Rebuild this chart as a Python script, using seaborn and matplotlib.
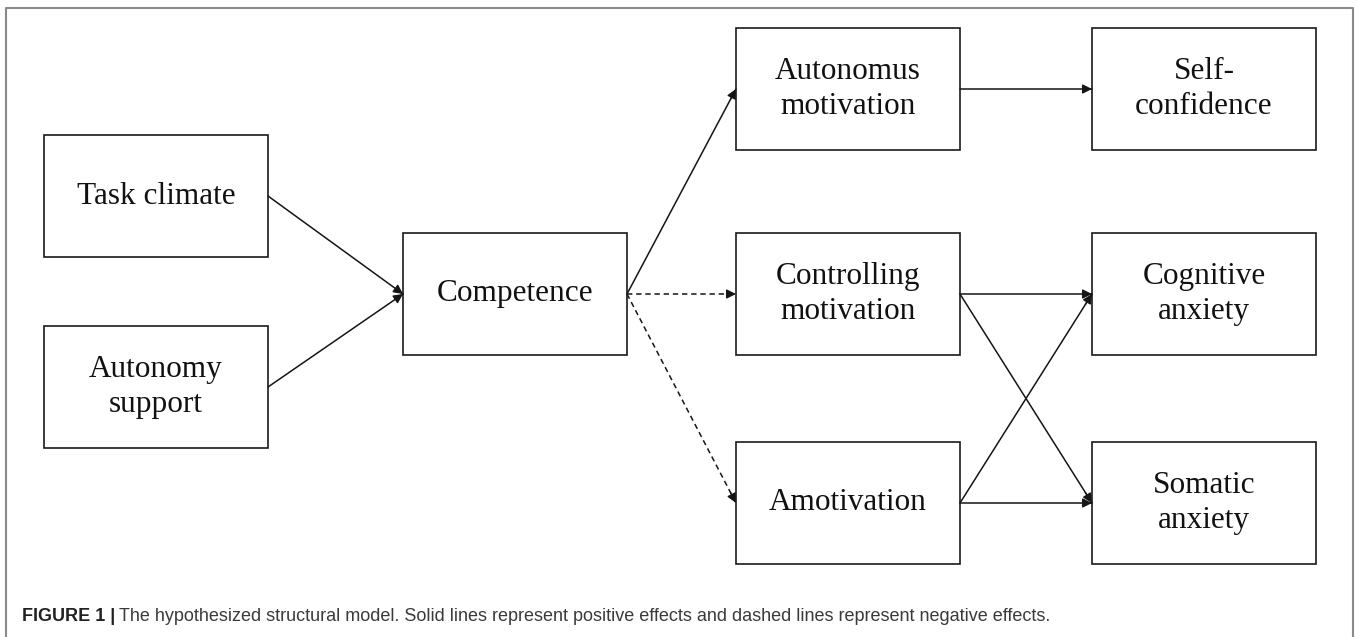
import matplotlib
matplotlib.use("Agg")
import matplotlib.pyplot as plt
from matplotlib.patches import Rectangle
import pandas as pd
import seaborn as sns

# nodes of the structural model
node_ids = ['task', 'autsup', 'comp', 'autmot', 'ctrl', 'amot', 'selfc', 'cog', 'som']
node_labels = ['Task climate', 'Autonomy\nsupport', 'Competence',
               'Autonomus\nmotivation', 'Controlling\nmotivation', 'Amotivation',
               'Self-\nconfidence', 'Cognitive\nanxiety', 'Somatic\nanxiety']
node_left = [44, 44, 403, 736, 736, 736, 1092, 1092, 1092]
node_top = [135, 326, 233, 28, 233, 442, 28, 233, 442]

# hypothesized paths
edge_src = ['task', 'autsup', 'comp', 'comp', 'comp', 'autmot', 'ctrl', 'ctrl', 'amot', 'amot']
edge_dst = ['comp', 'comp', 'autmot', 'ctrl', 'amot', 'selfc', 'cog', 'som', 'cog', 'som']
edge_effect = ['positive', 'positive', 'positive', 'negative', 'negative',
               'positive', 'positive', 'positive', 'positive', 'positive']

caption_bold = 'FIGURE 1 |'
caption_text = ('The hypothesized structural model. Solid lines represent positive effects '
                'and dashed lines represent negative effects.')

box_w, box_h = 224, 122
W, H = 1358, 637

sns.set_theme(style='white')
plt.rcParams['font.family'] = ['Liberation Serif', 'DejaVu Serif']

fig = plt.figure(figsize=(W / 100, H / 100), dpi=100)
ax = fig.add_axes([0, 0, 1, 1])

pos = {n: (x, y) for n, x, y in zip(node_ids, node_left, node_top)}

# edges as long table -> seaborn lineplot (dashes per effect)
rows = []
for i, (s, d, e) in enumerate(zip(edge_src, edge_dst, edge_effect)):
    sx, sy = pos[s]
    dx, dy = pos[d]
    rows.append({'edge': i, 'x': sx + box_w, 'y': sy + box_h / 2, 'effect': e})
    rows.append({'edge': i, 'x': dx, 'y': dy + box_h / 2, 'effect': e})
edges = pd.DataFrame(rows)

sns.lineplot(data=edges, x='x', y='y', units='edge', estimator=None, sort=False,
             style='effect', dashes={'positive': '', 'negative': (3.5, 2.5)},
             color='#151515', lw=1.1, legend=False, ax=ax)

# arrow heads
for _, g in edges.groupby('edge'):
    x0, y0 = g['x'].iloc[0], g['y'].iloc[0]
    x1, y1 = g['x'].iloc[1], g['y'].iloc[1]
    ax.annotate('', xy=(x1, y1), xytext=(x1 - (x1 - x0) * 0.05, y1 - (y1 - y0) * 0.05),
                arrowprops=dict(arrowstyle='-|>', color='#151515', lw=1.0,
                                mutation_scale=14, shrinkA=0, shrinkB=0))

# boxes
for n, lab in zip(node_ids, node_labels):
    x, y = pos[n]
    ax.add_patch(Rectangle((x, y), box_w, box_h, fill=False, ec='#1a1a1a', lw=1.2, zorder=3))
    ax.text(x + box_w / 2, y + box_h / 2, lab, ha='center', va='center',
            multialignment='center', fontsize=22.5, color='#111111', linespacing=1.25)

# outer frame
ax.plot([6, 6, 1353, 1353], [H, 8, 8, H], color='#8a8a8a', lw=1.5)

ax.set_xlim(0, W)
ax.set_ylim(H, 0)
ax.axis('off')

# caption
t1 = ax.text(22, 621, caption_bold, fontsize=13, fontweight='bold', color='#222222',
             family=['Liberation Sans', 'DejaVu Sans'], va='baseline', ha='left')
fig.canvas.draw()
bb = t1.get_window_extent()
xend = ax.transData.inverted().transform((bb.x1, bb.y0))[0]
ax.text(xend + 4, 621, caption_text, fontsize=13, color='#3a3a3a',
        family=['Liberation Sans', 'DejaVu Sans'], va='baseline', ha='left')

fig.savefig('out.png', dpi=100)
